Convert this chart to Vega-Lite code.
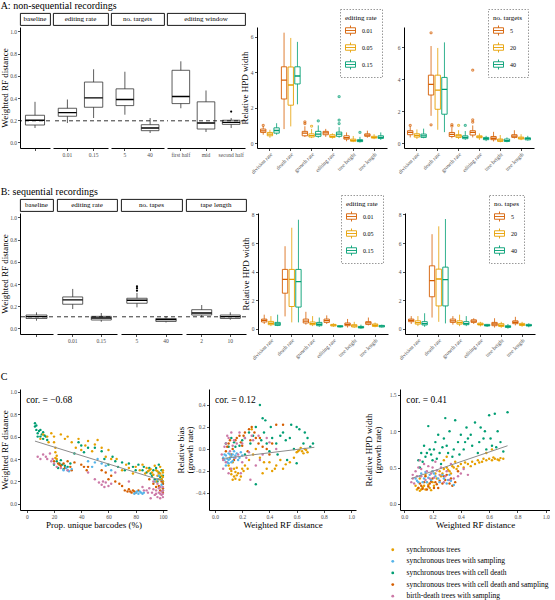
{
"$schema":"https://vega.github.io/schema/vega-lite/v6.json",
"padding":{"left":0,"top":0,"right":0,"bottom":0},
"background":"white",
"config":{
 "font":"Liberation Serif",
 "view":{"stroke":null},
 "axis":{"grid":false,"labelFont":"Liberation Serif","titleFont":"Liberation Serif","labelFontSize":5.5,"titleFontSize":9,"titleFontWeight":"normal","labelColor":"#4d4d4d","tickColor":"#4d4d4d","domainColor":"black","domainWidth":1,"tickSize":2.5,"labelPadding":1.5,"titlePadding":1,"titleColor":"black","labelOverlap":false,"titleLineHeight":9},
 "title":{"font":"Liberation Serif","fontWeight":"normal","fontSize":10,"anchor":"start","offset":-2,"color":"black"},
 "legend":{"labelFont":"Liberation Serif","titleFont":"Liberation Serif","titleFontWeight":"normal","titleColor":"black","labelColor":"black"},
 "text":{"font":"Liberation Serif","color":"black"}
},
"datasets":{
 "al":[
  {"g":"baseline","c":"baseline","lo":0.13,"q1":0.157,"md":0.2,"q3":0.245,"hi":0.366},
  {"g":"rate","c":"0.01","lo":0.175,"q1":0.236,"md":0.269,"q3":0.308,"hi":0.387},
  {"g":"rate","c":"0.15","lo":0.22,"q1":0.317,"md":0.402,"q3":0.544,"hi":0.659},
  {"g":"targets","c":"5","lo":0.25,"q1":0.332,"md":0.387,"q3":0.483,"hi":0.637},
  {"g":"targets","c":"40","lo":0.085,"q1":0.106,"md":0.13,"q3":0.16,"hi":0.22},
  {"g":"window","c":"first half","lo":0.308,"q1":0.35,"md":0.414,"q3":0.65,"hi":0.731},
  {"g":"window","c":"mid","lo":0.094,"q1":0.121,"md":0.175,"q3":0.366,"hi":0.468},
  {"g":"window","c":"second half","lo":0.13,"q1":0.163,"md":0.18,"q3":0.2,"hi":0.22}
 ],
 "bl":[
  {"g":"baseline","c":"baseline","lo":0.07,"q1":0.09,"md":0.106,"q3":0.121,"hi":0.145},
  {"g":"rate","c":"0.01","lo":0.175,"q1":0.218,"md":0.257,"q3":0.284,"hi":0.356},
  {"g":"rate","c":"0.15","lo":0.06,"q1":0.076,"md":0.094,"q3":0.109,"hi":0.139},
  {"g":"tapes","c":"5","lo":0.19,"q1":0.227,"md":0.254,"q3":0.272,"hi":0.32},
  {"g":"tapes","c":"40","lo":0.054,"q1":0.063,"md":0.079,"q3":0.09,"hi":0.109},
  {"g":"length","c":"2","lo":0.1,"q1":0.121,"md":0.139,"q3":0.169,"hi":0.211},
  {"g":"length","c":"10","lo":0.078,"q1":0.09,"md":0.106,"q3":0.121,"hi":0.145}
 ],
 "am":[
  {"v":"division rate","k":"0.01","lo":0.47,"q1":0.6,"md":0.69,"q3":0.79,"hi":0.97},
  {"v":"division rate","k":"0.05","lo":0.3,"q1":0.41,"md":0.5,"q3":0.6,"hi":0.75},
  {"v":"division rate","k":"0.15","lo":0.47,"q1":0.56,"md":0.71,"q3":0.86,"hi":1.12},
  {"v":"death rate","k":"0.01","lo":0.79,"q1":2.49,"md":3.56,"q3":4.31,"hi":6.24},
  {"v":"death rate","k":"0.05","lo":0.94,"q1":2.14,"md":3.28,"q3":4.3,"hi":5.94},
  {"v":"death rate","k":"0.15","lo":2.19,"q1":3.34,"md":3.79,"q3":4.31,"hi":5.72},
  {"v":"growth rate","k":"0.01","lo":0.34,"q1":0.41,"md":0.56,"q3":0.66,"hi":0.95},
  {"v":"growth rate","k":"0.05","lo":0.28,"q1":0.34,"md":0.42,"q3":0.52,"hi":0.8},
  {"v":"growth rate","k":"0.15","lo":0.3,"q1":0.38,"md":0.5,"q3":0.66,"hi":1.0},
  {"v":"editing rate","k":"0.01","lo":0.35,"q1":0.47,"md":0.58,"q3":0.66,"hi":0.8},
  {"v":"editing rate","k":"0.05","lo":0.25,"q1":0.32,"md":0.38,"q3":0.47,"hi":0.55},
  {"v":"editing rate","k":"0.15","lo":0.3,"q1":0.38,"md":0.5,"q3":0.62,"hi":0.9},
  {"v":"tree height","k":"0.01","lo":0.1,"q1":0.22,"md":0.3,"q3":0.41,"hi":0.6},
  {"v":"tree height","k":"0.05","lo":0.05,"q1":0.1,"md":0.15,"q3":0.22,"hi":0.4},
  {"v":"tree height","k":"0.15","lo":0.03,"q1":0.08,"md":0.13,"q3":0.19,"hi":0.35},
  {"v":"tree length","k":"0.01","lo":0.3,"q1":0.38,"md":0.45,"q3":0.52,"hi":0.7},
  {"v":"tree length","k":"0.05","lo":0.22,"q1":0.28,"md":0.32,"q3":0.38,"hi":0.5},
  {"v":"tree length","k":"0.15","lo":0.18,"q1":0.26,"md":0.32,"q3":0.41,"hi":0.6}
 ],
 "amo":[
  {"v":"division rate","k":"0.01","y":1.0},
  {"v":"growth rate","k":"0.01","y":1.1},
  {"v":"growth rate","k":"0.01","y":1.2},
  {"v":"growth rate","k":"0.05","y":0.95},
  {"v":"growth rate","k":"0.15","y":1.25},
  {"v":"editing rate","k":"0.15","y":1.1},
  {"v":"editing rate","k":"0.15","y":1.3},
  {"v":"editing rate","k":"0.15","y":2.62},
  {"v":"tree height","k":"0.15","y":0.6}
 ],
 "ar":[
  {"v":"division rate","k":"5","lo":0.35,"q1":0.52,"md":0.66,"q3":0.77,"hi":1.05},
  {"v":"division rate","k":"20","lo":0.25,"q1":0.37,"md":0.47,"q3":0.58,"hi":0.85},
  {"v":"division rate","k":"40","lo":0.3,"q1":0.35,"md":0.45,"q3":0.56,"hi":0.9},
  {"v":"death rate","k":"5","lo":1.7,"q1":3.0,"md":3.66,"q3":4.24,"hi":6.06},
  {"v":"death rate","k":"20","lo":0.83,"q1":2.11,"md":3.31,"q3":4.24,"hi":5.94},
  {"v":"death rate","k":"40","lo":0.68,"q1":1.8,"md":3.35,"q3":4.1,"hi":6.29},
  {"v":"growth rate","k":"5","lo":0.3,"q1":0.41,"md":0.54,"q3":0.66,"hi":0.95},
  {"v":"growth rate","k":"20","lo":0.25,"q1":0.35,"md":0.45,"q3":0.52,"hi":0.8},
  {"v":"growth rate","k":"40","lo":0.2,"q1":0.27,"md":0.36,"q3":0.45,"hi":0.75},
  {"v":"editing rate","k":"5","lo":0.35,"q1":0.5,"md":0.66,"q3":0.77,"hi":1.1},
  {"v":"editing rate","k":"20","lo":0.2,"q1":0.33,"md":0.39,"q3":0.45,"hi":0.6},
  {"v":"editing rate","k":"40","lo":0.12,"q1":0.21,"md":0.28,"q3":0.35,"hi":0.45},
  {"v":"tree height","k":"5","lo":0.1,"q1":0.21,"md":0.3,"q3":0.41,"hi":0.7},
  {"v":"tree height","k":"20","lo":0.05,"q1":0.1,"md":0.18,"q3":0.25,"hi":0.5},
  {"v":"tree height","k":"40","lo":0.05,"q1":0.1,"md":0.15,"q3":0.25,"hi":0.35},
  {"v":"tree length","k":"5","lo":0.28,"q1":0.35,"md":0.43,"q3":0.52,"hi":0.8},
  {"v":"tree length","k":"20","lo":0.18,"q1":0.25,"md":0.31,"q3":0.37,"hi":0.55},
  {"v":"tree length","k":"40","lo":0.15,"q1":0.2,"md":0.27,"q3":0.33,"hi":0.45}
 ],
 "aro":[
  {"v":"division rate","k":"5","y":1.1},
  {"v":"death rate","k":"5","y":6.89},
  {"v":"death rate","k":"5","y":1.14},
  {"v":"growth rate","k":"5","y":1.15},
  {"v":"growth rate","k":"5","y":1.05},
  {"v":"growth rate","k":"20","y":1.1},
  {"v":"growth rate","k":"40","y":1.1},
  {"v":"editing rate","k":"5","y":1.3},
  {"v":"editing rate","k":"5","y":1.45},
  {"v":"editing rate","k":"5","y":4.55}
 ],
 "bm":[
  {"v":"division rate","k":"0.01","lo":0.35,"q1":0.49,"md":0.6,"q3":0.69,"hi":1.0},
  {"v":"division rate","k":"0.05","lo":0.2,"q1":0.3,"md":0.4,"q3":0.53,"hi":0.9},
  {"v":"division rate","k":"0.15","lo":0.2,"q1":0.25,"md":0.35,"q3":0.46,"hi":1.0},
  {"v":"death rate","k":"0.01","lo":0.88,"q1":2.5,"md":3.47,"q3":4.16,"hi":5.78},
  {"v":"death rate","k":"0.05","lo":0.46,"q1":1.57,"md":3.47,"q3":4.16,"hi":7.07},
  {"v":"death rate","k":"0.15","lo":0.46,"q1":1.53,"md":3.31,"q3":4.16,"hi":7.63},
  {"v":"growth rate","k":"0.01","lo":0.3,"q1":0.42,"md":0.55,"q3":0.69,"hi":1.2},
  {"v":"growth rate","k":"0.05","lo":0.2,"q1":0.3,"md":0.38,"q3":0.49,"hi":0.9},
  {"v":"growth rate","k":"0.15","lo":0.15,"q1":0.23,"md":0.33,"q3":0.46,"hi":0.8},
  {"v":"editing rate","k":"0.01","lo":0.35,"q1":0.46,"md":0.58,"q3":0.69,"hi":0.95},
  {"v":"editing rate","k":"0.05","lo":0.15,"q1":0.21,"md":0.27,"q3":0.32,"hi":0.4},
  {"v":"editing rate","k":"0.15","lo":0.1,"q1":0.14,"md":0.18,"q3":0.23,"hi":0.25},
  {"v":"tree height","k":"0.01","lo":0.1,"q1":0.23,"md":0.32,"q3":0.42,"hi":0.7},
  {"v":"tree height","k":"0.05","lo":0.08,"q1":0.14,"md":0.22,"q3":0.3,"hi":0.5},
  {"v":"tree height","k":"0.15","lo":0.02,"q1":0.07,"md":0.12,"q3":0.18,"hi":0.3},
  {"v":"tree length","k":"0.01","lo":0.25,"q1":0.32,"md":0.42,"q3":0.51,"hi":0.8},
  {"v":"tree length","k":"0.05","lo":0.12,"q1":0.18,"md":0.26,"q3":0.35,"hi":0.45},
  {"v":"tree length","k":"0.15","lo":0.1,"q1":0.14,"md":0.2,"q3":0.25,"hi":0.3}
 ],
 "br":[
  {"v":"division rate","k":"5","lo":0.35,"q1":0.51,"md":0.6,"q3":0.69,"hi":0.9},
  {"v":"division rate","k":"20","lo":0.2,"q1":0.34,"md":0.45,"q3":0.57,"hi":0.9},
  {"v":"division rate","k":"40","lo":0.15,"q1":0.28,"md":0.38,"q3":0.51,"hi":1.1},
  {"v":"death rate","k":"5","lo":0.8,"q1":2.25,"md":3.38,"q3":4.41,"hi":6.62},
  {"v":"death rate","k":"20","lo":0.5,"q1":1.61,"md":3.49,"q3":4.18,"hi":7.17},
  {"v":"death rate","k":"40","lo":0.39,"q1":1.61,"md":3.45,"q3":4.32,"hi":7.68},
  {"v":"growth rate","k":"5","lo":0.3,"q1":0.46,"md":0.57,"q3":0.69,"hi":0.9},
  {"v":"growth rate","k":"20","lo":0.2,"q1":0.34,"md":0.45,"q3":0.57,"hi":1.0},
  {"v":"growth rate","k":"40","lo":0.2,"q1":0.3,"md":0.38,"q3":0.51,"hi":0.9},
  {"v":"editing rate","k":"5","lo":0.35,"q1":0.46,"md":0.55,"q3":0.64,"hi":0.75},
  {"v":"editing rate","k":"20","lo":0.18,"q1":0.28,"md":0.33,"q3":0.41,"hi":0.5},
  {"v":"editing rate","k":"40","lo":0.15,"q1":0.21,"md":0.25,"q3":0.32,"hi":0.35},
  {"v":"tree height","k":"5","lo":0.1,"q1":0.23,"md":0.35,"q3":0.46,"hi":0.75},
  {"v":"tree height","k":"20","lo":0.08,"q1":0.18,"md":0.26,"q3":0.37,"hi":0.5},
  {"v":"tree height","k":"40","lo":0.02,"q1":0.11,"md":0.16,"q3":0.23,"hi":0.35},
  {"v":"tree length","k":"5","lo":0.25,"q1":0.37,"md":0.47,"q3":0.57,"hi":0.85},
  {"v":"tree length","k":"20","lo":0.15,"q1":0.25,"md":0.31,"q3":0.39,"hi":0.5},
  {"v":"tree length","k":"40","lo":0.12,"q1":0.21,"md":0.25,"q3":0.32,"hi":0.4}
 ],
 "cl":[
  {"s":"c","x":6,"y":0.72},{"s":"c","x":6,"y":0.69},{"s":"c","x":7,"y":0.66},{"s":"c","x":8,"y":0.63},{"s":"c","x":9,"y":0.65},{"s":"c","x":10,"y":0.6},{"s":"c","x":11,"y":0.62},{"s":"c","x":12,"y":0.58},{"s":"c","x":13,"y":0.61},{"s":"c","x":14,"y":0.6},{"s":"c","x":15,"y":0.57},{"s":"c","x":8,"y":0.6},{"s":"c","x":10,"y":0.66},{"s":"c","x":22,"y":0.38},{"s":"c","x":24,"y":0.36},{"s":"c","x":26,"y":0.35},{"s":"c","x":28,"y":0.34},{"s":"c","x":30,"y":0.33},{"s":"c","x":25,"y":0.39},{"s":"c","x":27,"y":0.31},{"s":"c","x":32,"y":0.36},{"s":"c","x":35,"y":0.45},{"s":"c","x":40,"y":0.52},{"s":"c","x":45,"y":0.5},{"s":"c","x":50,"y":0.5},{"s":"c","x":55,"y":0.47},{"s":"c","x":60,"y":0.35},{"s":"c","x":65,"y":0.38},{"s":"c","x":70,"y":0.37},{"s":"c","x":75,"y":0.36},{"s":"c","x":78,"y":0.33},{"s":"c","x":80,"y":0.3},{"s":"c","x":82,"y":0.35},{"s":"c","x":85,"y":0.3},{"s":"c","x":88,"y":0.28},{"s":"c","x":90,"y":0.32},{"s":"c","x":92,"y":0.25},{"s":"c","x":94,"y":0.22},{"s":"c","x":96,"y":0.2},{"s":"c","x":98,"y":0.15},{"s":"c","x":99,"y":0.3},{"s":"c","x":100,"y":0.25},{"s":"c","x":97,"y":0.35},{"s":"c","x":100,"y":0.18},
  {"s":"c","x":86,"y":0.33},{"s":"c","x":91,"y":0.27},{"s":"c","x":93,"y":0.3},{"s":"c","x":95,"y":0.32},{"s":"c","x":97,"y":0.28},{"s":"c","x":99,"y":0.22},{"s":"c","x":100,"y":0.12},{"s":"c","x":100,"y":0.2},{"s":"c","x":98,"y":0.24},{"s":"c","x":72,"y":0.3},{"s":"c","x":67,"y":0.33},{"s":"c","x":63,"y":0.42},{"s":"c","x":57,"y":0.4},{"s":"c","x":42,"y":0.46},{"s":"c","x":38,"y":0.55},{"s":"c","x":20,"y":0.35},{"s":"c","x":23,"y":0.32},{"s":"c","x":12,"y":0.64},{"s":"c","x":7,"y":0.7},
  {"s":"a","x":10,"y":0.58},{"s":"a","x":12,"y":0.62},{"s":"a","x":15,"y":0.6},{"s":"a","x":18,"y":0.63},{"s":"a","x":20,"y":0.55},{"s":"a","x":21,"y":0.5},{"s":"a","x":21,"y":0.46},{"s":"a","x":22,"y":0.43},{"s":"a","x":21,"y":0.41},{"s":"a","x":22,"y":0.4},{"s":"a","x":30,"y":0.6},{"s":"a","x":33,"y":0.55},{"s":"a","x":36,"y":0.5},{"s":"a","x":40,"y":0.48},{"s":"a","x":45,"y":0.56},{"s":"a","x":50,"y":0.53},{"s":"a","x":55,"y":0.5},{"s":"a","x":38,"y":0.58},{"s":"a","x":58,"y":0.42},{"s":"a","x":62,"y":0.4},{"s":"a","x":70,"y":0.3},{"s":"a","x":75,"y":0.32},{"s":"a","x":78,"y":0.27},{"s":"a","x":80,"y":0.33},{"s":"a","x":83,"y":0.3},{"s":"a","x":85,"y":0.35},{"s":"a","x":88,"y":0.32},{"s":"a","x":90,"y":0.3},{"s":"a","x":92,"y":0.28},{"s":"a","x":94,"y":0.34},{"s":"a","x":95,"y":0.3},{"s":"a","x":96,"y":0.25},{"s":"a","x":97,"y":0.27},{"s":"a","x":98,"y":0.33},{"s":"a","x":99,"y":0.22},{"s":"a","x":100,"y":0.28},{"s":"a","x":100,"y":0.2},{"s":"a","x":93,"y":0.26},{"s":"a","x":87,"y":0.27},
  {"s":"a","x":89,"y":0.29},{"s":"a","x":91,"y":0.31},{"s":"a","x":96,"y":0.29},{"s":"a","x":98,"y":0.27},{"s":"a","x":99,"y":0.25},{"s":"a","x":100,"y":0.3},{"s":"a","x":100,"y":0.24},{"s":"a","x":97,"y":0.22},{"s":"a","x":95,"y":0.2},{"s":"a","x":25,"y":0.62},{"s":"a","x":28,"y":0.58},{"s":"a","x":43,"y":0.52},{"s":"a","x":48,"y":0.47},{"s":"a","x":52,"y":0.57},{"s":"a","x":60,"y":0.48},{"s":"a","x":66,"y":0.4},{"s":"a","x":73,"y":0.35},{"s":"a","x":20,"y":0.6},{"s":"a","x":16,"y":0.55},
  {"s":"d","x":20,"y":0.38},{"s":"d","x":23,"y":0.36},{"s":"d","x":25,"y":0.34},{"s":"d","x":28,"y":0.32},{"s":"d","x":30,"y":0.38},{"s":"d","x":33,"y":0.3},{"s":"d","x":40,"y":0.35},{"s":"d","x":42,"y":0.33},{"s":"d","x":44,"y":0.3},{"s":"d","x":55,"y":0.3},{"s":"d","x":58,"y":0.28},{"s":"d","x":62,"y":0.25},{"s":"d","x":65,"y":0.2},{"s":"d","x":70,"y":0.16},{"s":"d","x":72,"y":0.12},{"s":"d","x":74,"y":0.11},{"s":"d","x":75,"y":0.13},{"s":"d","x":77,"y":0.1},{"s":"d","x":78,"y":0.12},{"s":"d","x":79,"y":0.11},{"s":"d","x":80,"y":0.1},{"s":"d","x":82,"y":0.12},{"s":"d","x":90,"y":0.22},{"s":"d","x":93,"y":0.18},{"s":"d","x":95,"y":0.15},{"s":"d","x":98,"y":0.12},{"s":"d","x":100,"y":0.1},{"s":"d","x":99,"y":0.2},{"s":"d","x":60,"y":0.22},
  {"s":"d","x":24,"y":0.35},{"s":"d","x":27,"y":0.36},{"s":"d","x":32,"y":0.33},{"s":"d","x":35,"y":0.37},{"s":"d","x":45,"y":0.33},{"s":"d","x":68,"y":0.18},{"s":"d","x":76,"y":0.11},{"s":"d","x":97,"y":0.16},{"s":"d","x":100,"y":0.14},{"s":"d","x":100,"y":0.18},
  {"s":"b","x":27,"y":0.3},{"s":"b","x":29,"y":0.32},{"s":"b","x":31,"y":0.29},{"s":"b","x":33,"y":0.31},{"s":"b","x":45,"y":0.38},{"s":"b","x":48,"y":0.33},{"s":"b","x":52,"y":0.4},{"s":"b","x":55,"y":0.36},{"s":"b","x":58,"y":0.34},{"s":"b","x":62,"y":0.3},{"s":"b","x":80,"y":0.1},{"s":"b","x":82,"y":0.09},{"s":"b","x":84,"y":0.1},{"s":"b","x":86,"y":0.1},{"s":"b","x":81,"y":0.11},{"s":"b","x":94,"y":0.2},{"s":"b","x":97,"y":0.25},{"s":"b","x":99,"y":0.17},
  {"s":"b","x":85,"y":0.09},{"s":"b","x":83,"y":0.11},{"s":"b","x":79,"y":0.09},{"s":"b","x":30,"y":0.3},{"s":"b","x":50,"y":0.37},{"s":"b","x":96,"y":0.22},
  {"s":"e","x":8,"y":0.42},{"s":"e","x":12,"y":0.44},{"s":"e","x":15,"y":0.4},{"s":"e","x":18,"y":0.38},{"s":"e","x":20,"y":0.36},{"s":"e","x":22,"y":0.33},{"s":"e","x":17,"y":0.45},{"s":"e","x":30,"y":0.3},{"s":"e","x":45,"y":0.28},{"s":"e","x":50,"y":0.22},{"s":"e","x":55,"y":0.17},{"s":"e","x":57,"y":0.15},{"s":"e","x":58,"y":0.19},{"s":"e","x":60,"y":0.16},{"s":"e","x":65,"y":0.28},{"s":"e","x":75,"y":0.2},{"s":"e","x":85,"y":0.15},{"s":"e","x":88,"y":0.12},{"s":"e","x":90,"y":0.14},{"s":"e","x":92,"y":0.1},{"s":"e","x":94,"y":0.08},{"s":"e","x":95,"y":0.12},{"s":"e","x":96,"y":0.06},{"s":"e","x":97,"y":0.1},{"s":"e","x":98,"y":0.05},{"s":"e","x":99,"y":0.08},{"s":"e","x":100,"y":0.06},{"s":"e","x":100,"y":0.12},{"s":"e","x":98,"y":0.15},{"s":"e","x":96,"y":0.18},{"s":"e","x":93,"y":0.2},{"s":"e","x":91,"y":0.05},
  {"s":"e","x":97,"y":0.14},{"s":"e","x":99,"y":0.11},{"s":"e","x":100,"y":0.09},{"s":"e","x":100,"y":0.15},{"s":"e","x":98,"y":0.09},{"s":"e","x":95,"y":0.09},{"s":"e","x":93,"y":0.13},{"s":"e","x":89,"y":0.1},{"s":"e","x":86,"y":0.12},{"s":"e","x":10,"y":0.4},{"s":"e","x":14,"y":0.42},{"s":"e","x":19,"y":0.4},{"s":"e","x":25,"y":0.32},{"s":"e","x":53,"y":0.19},{"s":"e","x":56,"y":0.2},{"s":"e","x":62,"y":0.18}
 ],
 "cm":[
  {"s":"c","x":0.08,"y":0.05},{"s":"c","x":0.12,"y":0.1},{"s":"c","x":0.15,"y":0.02},{"s":"c","x":0.2,"y":0.08},{"s":"c","x":0.25,"y":0.15},{"s":"c","x":0.28,"y":0.12},{"s":"c","x":0.3,"y":0.2},{"s":"c","x":0.33,"y":0.4},{"s":"c","x":0.35,"y":0.28},{"s":"c","x":0.37,"y":0.26},{"s":"c","x":0.38,"y":0.05},{"s":"c","x":0.4,"y":-0.02},{"s":"c","x":0.42,"y":0.1},{"s":"c","x":0.45,"y":0.05},{"s":"c","x":0.48,"y":0.12},{"s":"c","x":0.5,"y":0.15},{"s":"c","x":0.52,"y":0.08},{"s":"c","x":0.55,"y":0.1},{"s":"c","x":0.58,"y":0.0},{"s":"c","x":0.6,"y":0.2},{"s":"c","x":0.62,"y":0.18},{"s":"c","x":0.65,"y":0.05},{"s":"c","x":0.68,"y":0.1},{"s":"c","x":0.7,"y":0.02},{"s":"c","x":0.72,"y":0.05},{"s":"c","x":0.3,"y":-0.32},{"s":"c","x":0.22,"y":-0.05},{"s":"c","x":0.53,"y":-0.1},{"s":"c","x":0.46,"y":-0.05},{"s":"c","x":0.6,"y":-0.13},
  {"s":"c","x":0.1,"y":0.02},{"s":"c","x":0.14,"y":0.06},{"s":"c","x":0.18,"y":0.03},{"s":"c","x":0.22,"y":0.1},{"s":"c","x":0.26,"y":0.05},{"s":"c","x":0.34,"y":0.08},{"s":"c","x":0.36,"y":0.15},{"s":"c","x":0.41,"y":0.2},{"s":"c","x":0.56,"y":0.22},{"s":"c","x":0.66,"y":0.15},
  {"s":"a","x":0.1,"y":-0.15},{"s":"a","x":0.12,"y":-0.2},{"s":"a","x":0.14,"y":-0.25},{"s":"a","x":0.15,"y":-0.27},{"s":"a","x":0.17,"y":-0.22},{"s":"a","x":0.18,"y":-0.28},{"s":"a","x":0.2,"y":-0.18},{"s":"a","x":0.13,"y":-0.12},{"s":"a","x":0.16,"y":-0.17},{"s":"a","x":0.22,"y":-0.15},{"s":"a","x":0.25,"y":-0.1},{"s":"a","x":0.28,"y":-0.05},{"s":"a","x":0.3,"y":0.0},{"s":"a","x":0.33,"y":-0.08},{"s":"a","x":0.36,"y":-0.12},{"s":"a","x":0.38,"y":-0.18},{"s":"a","x":0.42,"y":-0.2},{"s":"a","x":0.45,"y":-0.15},{"s":"a","x":0.48,"y":-0.1},{"s":"a","x":0.5,"y":-0.18},{"s":"a","x":0.55,"y":-0.12},{"s":"a","x":0.58,"y":-0.08},{"s":"a","x":0.6,"y":-0.03},{"s":"a","x":0.62,"y":-0.01},{"s":"a","x":0.64,"y":-0.02},{"s":"a","x":0.66,"y":0.0},{"s":"a","x":0.68,"y":-0.03},{"s":"a","x":0.65,"y":-0.04},{"s":"a","x":0.63,"y":0.01},{"s":"a","x":0.27,"y":0.18},{"s":"a","x":0.35,"y":-0.22},{"s":"a","x":0.11,"y":-0.08},
  {"s":"a","x":0.12,"y":-0.23},{"s":"a","x":0.14,"y":-0.18},{"s":"a","x":0.16,"y":-0.24},{"s":"a","x":0.19,"y":-0.25},{"s":"a","x":0.21,"y":-0.2},{"s":"a","x":0.11,"y":-0.18},{"s":"a","x":0.13,"y":-0.28},{"s":"a","x":0.15,"y":-0.21},{"s":"a","x":0.24,"y":-0.18},{"s":"a","x":0.4,"y":-0.12},{"s":"a","x":0.44,"y":-0.18},{"s":"a","x":0.52,"y":-0.14},{"s":"a","x":0.67,"y":-0.01},{"s":"a","x":0.61,"y":-0.02},
  {"s":"d","x":0.08,"y":-0.02},{"s":"d","x":0.1,"y":0.05},{"s":"d","x":0.12,"y":-0.05},{"s":"d","x":0.15,"y":0.08},{"s":"d","x":0.18,"y":0.12},{"s":"d","x":0.2,"y":0.03},{"s":"d","x":0.22,"y":0.15},{"s":"d","x":0.25,"y":0.18},{"s":"d","x":0.27,"y":0.2},{"s":"d","x":0.3,"y":0.1},{"s":"d","x":0.32,"y":0.05},{"s":"d","x":0.35,"y":0.02},{"s":"d","x":0.38,"y":0.0},{"s":"d","x":0.4,"y":-0.05},{"s":"d","x":0.45,"y":0.22},{"s":"d","x":0.5,"y":0.22},{"s":"d","x":0.14,"y":-0.1},{"s":"d","x":0.24,"y":-0.02},
  {"s":"d","x":0.09,"y":0.02},{"s":"d","x":0.11,"y":0.08},{"s":"d","x":0.13,"y":0.0},{"s":"d","x":0.16,"y":0.1},{"s":"d","x":0.19,"y":0.06},{"s":"d","x":0.21,"y":0.12},{"s":"d","x":0.26,"y":0.08},{"s":"d","x":0.29,"y":0.15},{"s":"d","x":0.33,"y":0.1},{"s":"d","x":0.42,"y":0.05},
  {"s":"b","x":0.06,"y":-0.08},{"s":"b","x":0.07,"y":-0.1},{"s":"b","x":0.08,"y":-0.06},{"s":"b","x":0.09,"y":-0.12},{"s":"b","x":0.1,"y":-0.04},{"s":"b","x":0.11,"y":-0.09},{"s":"b","x":0.12,"y":-0.07},{"s":"b","x":0.13,"y":-0.11},{"s":"b","x":0.15,"y":-0.06},{"s":"b","x":0.17,"y":-0.1},{"s":"b","x":0.19,"y":-0.03},{"s":"b","x":0.08,"y":-0.15},{"s":"b","x":0.1,"y":-0.13},{"s":"b","x":0.14,"y":-0.02},
  {"s":"b","x":0.07,"y":-0.05},{"s":"b","x":0.09,"y":-0.09},{"s":"b","x":0.11,"y":-0.05},{"s":"b","x":0.12,"y":-0.12},{"s":"b","x":0.14,"y":-0.08},{"s":"b","x":0.16,"y":-0.04},{"s":"b","x":0.18,"y":-0.08},{"s":"b","x":0.2,"y":-0.06},{"s":"b","x":0.1,"y":-0.1},{"s":"b","x":0.13,"y":-0.05},
  {"s":"e","x":0.05,"y":-0.05},{"s":"e","x":0.07,"y":0.02},{"s":"e","x":0.08,"y":-0.12},{"s":"e","x":0.1,"y":0.1},{"s":"e","x":0.12,"y":-0.18},{"s":"e","x":0.13,"y":0.03},{"s":"e","x":0.15,"y":-0.08},{"s":"e","x":0.18,"y":0.15},{"s":"e","x":0.2,"y":-0.12},{"s":"e","x":0.22,"y":0.1},{"s":"e","x":0.25,"y":-0.03},{"s":"e","x":0.28,"y":0.08},{"s":"e","x":0.3,"y":-0.15},{"s":"e","x":0.32,"y":0.12},{"s":"e","x":0.35,"y":-0.05},{"s":"e","x":0.4,"y":0.06},{"s":"e","x":0.45,"y":0.0},{"s":"e","x":0.06,"y":-0.18},{"s":"e","x":0.09,"y":0.12},{"s":"e","x":0.16,"y":0.05},{"s":"e","x":0.26,"y":-0.28},{"s":"e","x":0.19,"y":-0.22},
  {"s":"e","x":0.06,"y":-0.1},{"s":"e","x":0.08,"y":0.05},{"s":"e","x":0.11,"y":-0.02},{"s":"e","x":0.14,"y":0.08},{"s":"e","x":0.17,"y":-0.05},{"s":"e","x":0.2,"y":0.05},{"s":"e","x":0.23,"y":-0.08},{"s":"e","x":0.12,"y":0.15},{"s":"e","x":0.27,"y":0.12},{"s":"e","x":0.33,"y":-0.1},{"s":"e","x":0.38,"y":0.1},{"s":"e","x":0.1,"y":-0.22}
 ],
 "cr":[
  {"s":"c","x":0.1,"y":0.6},{"s":"c","x":0.12,"y":0.7},{"s":"c","x":0.14,"y":0.8},{"s":"c","x":0.15,"y":0.65},{"s":"c","x":0.17,"y":1.07},{"s":"c","x":0.18,"y":0.75},{"s":"c","x":0.2,"y":0.6},{"s":"c","x":0.22,"y":0.85},{"s":"c","x":0.25,"y":0.7},{"s":"c","x":0.28,"y":0.9},{"s":"c","x":0.29,"y":1.18},{"s":"c","x":0.3,"y":0.8},{"s":"c","x":0.32,"y":1.0},{"s":"c","x":0.34,"y":0.65},{"s":"c","x":0.36,"y":1.15},{"s":"c","x":0.38,"y":0.85},{"s":"c","x":0.4,"y":0.95},{"s":"c","x":0.42,"y":0.75},{"s":"c","x":0.45,"y":0.9},{"s":"c","x":0.48,"y":0.8},{"s":"c","x":0.5,"y":1.12},{"s":"c","x":0.52,"y":0.7},{"s":"c","x":0.54,"y":1.05},{"s":"c","x":0.56,"y":0.9},{"s":"c","x":0.58,"y":0.75},{"s":"c","x":0.6,"y":1.22},{"s":"c","x":0.62,"y":0.8},{"s":"c","x":0.64,"y":1.24},{"s":"c","x":0.66,"y":1.0},{"s":"c","x":0.68,"y":0.85},{"s":"c","x":0.73,"y":1.26},{"s":"c","x":0.7,"y":0.72},{"s":"c","x":0.24,"y":0.95},{"s":"c","x":0.44,"y":1.05},{"s":"c","x":0.26,"y":0.55},
  {"s":"c","x":0.11,"y":0.5},{"s":"c","x":0.13,"y":0.58},{"s":"c","x":0.16,"y":0.7},{"s":"c","x":0.19,"y":0.68},{"s":"c","x":0.21,"y":0.75},{"s":"c","x":0.23,"y":0.62},{"s":"c","x":0.27,"y":0.78},{"s":"c","x":0.31,"y":0.7},{"s":"c","x":0.35,"y":0.75},{"s":"c","x":0.39,"y":0.68},{"s":"c","x":0.43,"y":0.85},{"s":"c","x":0.47,"y":0.95},{"s":"c","x":0.53,"y":0.85},{"s":"c","x":0.57,"y":1.0},{"s":"c","x":0.61,"y":0.9},{"s":"c","x":0.65,"y":0.78},
  {"s":"a","x":0.08,"y":0.25},{"s":"a","x":0.1,"y":0.22},{"s":"a","x":0.12,"y":0.2},{"s":"a","x":0.14,"y":0.25},{"s":"a","x":0.16,"y":0.3},{"s":"a","x":0.18,"y":0.22},{"s":"a","x":0.2,"y":0.3},{"s":"a","x":0.11,"y":0.35},{"s":"a","x":0.15,"y":0.4},{"s":"a","x":0.22,"y":0.42},{"s":"a","x":0.25,"y":0.45},{"s":"a","x":0.28,"y":0.48},{"s":"a","x":0.3,"y":0.5},{"s":"a","x":0.32,"y":0.45},{"s":"a","x":0.35,"y":0.5},{"s":"a","x":0.38,"y":0.52},{"s":"a","x":0.4,"y":0.55},{"s":"a","x":0.42,"y":0.5},{"s":"a","x":0.45,"y":0.55},{"s":"a","x":0.48,"y":0.58},{"s":"a","x":0.5,"y":0.55},{"s":"a","x":0.52,"y":0.6},{"s":"a","x":0.55,"y":0.58},{"s":"a","x":0.58,"y":0.6},{"s":"a","x":0.6,"y":0.62},{"s":"a","x":0.62,"y":0.6},{"s":"a","x":0.64,"y":0.62},{"s":"a","x":0.66,"y":0.61},{"s":"a","x":0.68,"y":0.63},{"s":"a","x":0.7,"y":0.62},{"s":"a","x":0.26,"y":0.38},{"s":"a","x":0.33,"y":0.42},{"s":"a","x":0.58,"y":0.7},{"s":"a","x":0.62,"y":0.75},{"s":"a","x":0.3,"y":0.65},{"s":"a","x":0.28,"y":0.6},{"s":"a","x":0.2,"y":0.45},{"s":"a","x":0.36,"y":0.58},
  {"s":"a","x":0.09,"y":0.2},{"s":"a","x":0.11,"y":0.18},{"s":"a","x":0.13,"y":0.23},{"s":"a","x":0.15,"y":0.2},{"s":"a","x":0.17,"y":0.26},{"s":"a","x":0.19,"y":0.19},{"s":"a","x":0.21,"y":0.25},{"s":"a","x":0.23,"y":0.35},{"s":"a","x":0.27,"y":0.42},{"s":"a","x":0.31,"y":0.47},{"s":"a","x":0.34,"y":0.52},{"s":"a","x":0.37,"y":0.48},{"s":"a","x":0.43,"y":0.57},{"s":"a","x":0.47,"y":0.52},{"s":"a","x":0.53,"y":0.57},{"s":"a","x":0.56,"y":0.62},{"s":"a","x":0.63,"y":0.64},{"s":"a","x":0.67,"y":0.6},
  {"s":"d","x":0.1,"y":0.22},{"s":"d","x":0.12,"y":0.25},{"s":"d","x":0.14,"y":0.3},{"s":"d","x":0.16,"y":0.2},{"s":"d","x":0.18,"y":0.28},{"s":"d","x":0.2,"y":0.35},{"s":"d","x":0.22,"y":0.3},{"s":"d","x":0.25,"y":0.32},{"s":"d","x":0.28,"y":0.38},{"s":"d","x":0.3,"y":0.4},{"s":"d","x":0.32,"y":0.28},{"s":"d","x":0.34,"y":0.25},{"s":"d","x":0.36,"y":0.3},{"s":"d","x":0.38,"y":0.45},{"s":"d","x":0.15,"y":0.38},{"s":"d","x":0.24,"y":0.22},
  {"s":"d","x":0.11,"y":0.28},{"s":"d","x":0.13,"y":0.21},{"s":"d","x":0.17,"y":0.24},{"s":"d","x":0.19,"y":0.31},{"s":"d","x":0.21,"y":0.22},{"s":"d","x":0.23,"y":0.27},{"s":"d","x":0.27,"y":0.28},{"s":"d","x":0.29,"y":0.33},{"s":"d","x":0.33,"y":0.35},
  {"s":"b","x":0.08,"y":0.35},{"s":"b","x":0.1,"y":0.3},{"s":"b","x":0.12,"y":0.42},{"s":"b","x":0.14,"y":0.35},{"s":"b","x":0.16,"y":0.3},{"s":"b","x":0.18,"y":0.4},{"s":"b","x":0.2,"y":0.45},{"s":"b","x":0.22,"y":0.38},{"s":"b","x":0.25,"y":0.3},{"s":"b","x":0.28,"y":0.35},{"s":"b","x":0.3,"y":0.28},{"s":"b","x":0.32,"y":0.4},{"s":"b","x":0.35,"y":0.26},{"s":"b","x":0.33,"y":0.32},
  {"s":"b","x":0.09,"y":0.32},{"s":"b","x":0.11,"y":0.38},{"s":"b","x":0.13,"y":0.3},{"s":"b","x":0.15,"y":0.44},{"s":"b","x":0.17,"y":0.36},{"s":"b","x":0.19,"y":0.33},{"s":"b","x":0.21,"y":0.42},{"s":"b","x":0.24,"y":0.35},{"s":"b","x":0.27,"y":0.4},{"s":"b","x":0.31,"y":0.33},
  {"s":"e","x":0.05,"y":0.3},{"s":"e","x":0.06,"y":0.4},{"s":"e","x":0.08,"y":0.45},{"s":"e","x":0.1,"y":0.5},{"s":"e","x":0.12,"y":0.38},{"s":"e","x":0.14,"y":0.55},{"s":"e","x":0.16,"y":0.45},{"s":"e","x":0.18,"y":0.35},{"s":"e","x":0.2,"y":0.5},{"s":"e","x":0.22,"y":0.58},{"s":"e","x":0.25,"y":0.4},{"s":"e","x":0.28,"y":0.3},{"s":"e","x":0.3,"y":0.45},{"s":"e","x":0.35,"y":0.35},{"s":"e","x":0.4,"y":0.42},{"s":"e","x":0.45,"y":0.4},{"s":"e","x":0.07,"y":0.28},{"s":"e","x":0.11,"y":0.6},{"s":"e","x":0.33,"y":0.55},
  {"s":"e","x":0.06,"y":0.35},{"s":"e","x":0.09,"y":0.38},{"s":"e","x":0.12,"y":0.48},{"s":"e","x":0.15,"y":0.33},{"s":"e","x":0.17,"y":0.52},{"s":"e","x":0.19,"y":0.42},{"s":"e","x":0.21,"y":0.36},{"s":"e","x":0.23,"y":0.46},{"s":"e","x":0.26,"y":0.5},{"s":"e","x":0.29,"y":0.38},{"s":"e","x":0.32,"y":0.33},{"s":"e","x":0.38,"y":0.38},{"s":"e","x":0.42,"y":0.48}
 ]
},
"resolve":{"scale":{"x":"independent","y":"independent","stroke":"independent","color":"independent","xOffset":"independent"}},
"spacing":11,
"vconcat":[
 {"title":{"text":"A: non-sequential recordings"},"spacing":-6,
  "resolve":{"scale":{"x":"independent","y":"independent","stroke":"independent","color":"independent","xOffset":"independent"}},
  "hconcat":[
   {"spacing":1,"resolve":{"scale":{"x":"independent","y":"independent"}},
    "hconcat":[
     {"bounds":"flush","spacing":2,"vconcat":[
       {"width":30,"height":12,"view":{"stroke":"black","strokeWidth":0.9},"data":{"values":[{"t":"baseline"}]},"mark":{"type":"text","fontSize":7},"encoding":{"text":{"field":"t"}}},
       {"width":30,"height":121,"layer":[
         {"data":{"name":"al"},"transform":[{"filter":"datum.g=='baseline'"}],
          "encoding":{"x":{"field":"c","type":"nominal","scale":{"domain":["baseline"],"paddingInner":0.3,"paddingOuter":0.2},"axis":{"title":null,"labelExpr":"''","labelAngle":0}}},
          "layer":[
           {"mark":{"type":"rule","color":"#333","strokeWidth":0.8},"encoding":{"y":{"field":"lo","type":"quantitative","scale":{"domain":[-0.05,1.04],"nice":false},"axis":{"values":[0,0.2,0.4,0.6,0.8,1],"tickCount":20,"format":".1f","title":"Weighted RF distance","labelPadding":1,"titlePadding":0}},"y2":{"field":"hi"}}},
           {"mark":{"type":"bar","fill":"white","stroke":"#333","strokeWidth":0.8},"encoding":{"y":{"field":"q1","type":"quantitative"},"y2":{"field":"q3"}}},
           {"mark":{"type":"bar","fill":"transparent","stroke":"black","strokeWidth":1.3},"encoding":{"y":{"field":"md","type":"quantitative"},"y2":{"field":"md"}}}
          ]},
         {"data":{"values":[{"r":0.195}]},"mark":{"type":"rule","strokeDash":[4,3],"color":"black","strokeWidth":0.8},"encoding":{"y":{"field":"r","type":"quantitative"}}}
       ]}
     ]},
     {"bounds":"flush","spacing":2,"vconcat":[
       {"width":55,"height":12,"view":{"stroke":"black","strokeWidth":0.9},"data":{"values":[{"t":"editing rate"}]},"mark":{"type":"text","fontSize":7},"encoding":{"text":{"field":"t"}}},
       {"width":55,"height":121,"layer":[
         {"data":{"name":"al"},"transform":[{"filter":"datum.g=='rate'"}],
          "encoding":{"x":{"field":"c","type":"nominal","scale":{"domain":["0.01","0.15"],"paddingInner":0.3,"paddingOuter":0.2},"axis":{"title":null,"labelAngle":0}}},
          "layer":[
           {"mark":{"type":"rule","color":"#333","strokeWidth":0.8},"encoding":{"y":{"field":"lo","type":"quantitative","scale":{"domain":[-0.05,1.04],"nice":false},"axis":null},"y2":{"field":"hi"}}},
           {"mark":{"type":"bar","fill":"white","stroke":"#333","strokeWidth":0.8},"encoding":{"y":{"field":"q1","type":"quantitative","axis":null},"y2":{"field":"q3"}}},
           {"mark":{"type":"bar","fill":"transparent","stroke":"black","strokeWidth":1.3},"encoding":{"y":{"field":"md","type":"quantitative","axis":null},"y2":{"field":"md"}}}
          ]},
         {"data":{"values":[{"r":0.195}]},"mark":{"type":"rule","strokeDash":[4,3],"color":"black","strokeWidth":0.8},"encoding":{"y":{"field":"r","type":"quantitative","axis":null}}}
       ]}
     ]},
     {"bounds":"flush","spacing":2,"vconcat":[
       {"width":53,"height":12,"view":{"stroke":"black","strokeWidth":0.9},"data":{"values":[{"t":"no. targets"}]},"mark":{"type":"text","fontSize":7},"encoding":{"text":{"field":"t"}}},
       {"width":53,"height":121,"layer":[
         {"data":{"name":"al"},"transform":[{"filter":"datum.g=='targets'"}],
          "encoding":{"x":{"field":"c","type":"nominal","scale":{"domain":["5","40"],"paddingInner":0.3,"paddingOuter":0.2},"axis":{"title":null,"labelAngle":0}}},
          "layer":[
           {"mark":{"type":"rule","color":"#333","strokeWidth":0.8},"encoding":{"y":{"field":"lo","type":"quantitative","scale":{"domain":[-0.05,1.04],"nice":false},"axis":null},"y2":{"field":"hi"}}},
           {"mark":{"type":"bar","fill":"white","stroke":"#333","strokeWidth":0.8},"encoding":{"y":{"field":"q1","type":"quantitative","axis":null},"y2":{"field":"q3"}}},
           {"mark":{"type":"bar","fill":"transparent","stroke":"black","strokeWidth":1.3},"encoding":{"y":{"field":"md","type":"quantitative","axis":null},"y2":{"field":"md"}}}
          ]},
         {"data":{"values":[{"r":0.195}]},"mark":{"type":"rule","strokeDash":[4,3],"color":"black","strokeWidth":0.8},"encoding":{"y":{"field":"r","type":"quantitative","axis":null}}}
       ]}
     ]},
     {"bounds":"flush","spacing":2,"vconcat":[
       {"width":78,"height":12,"view":{"stroke":"black","strokeWidth":0.9},"data":{"values":[{"t":"editing window"}]},"mark":{"type":"text","fontSize":7},"encoding":{"text":{"field":"t"}}},
       {"width":78,"height":121,"layer":[
         {"data":{"name":"al"},"transform":[{"filter":"datum.g=='window'"}],
          "encoding":{"x":{"field":"c","type":"nominal","scale":{"domain":["first half","mid","second half"],"paddingInner":0.3,"paddingOuter":0.2},"axis":{"title":null,"labelAngle":0}}},
          "layer":[
           {"mark":{"type":"rule","color":"#333","strokeWidth":0.8},"encoding":{"y":{"field":"lo","type":"quantitative","scale":{"domain":[-0.05,1.04],"nice":false},"axis":null},"y2":{"field":"hi"}}},
           {"mark":{"type":"bar","fill":"white","stroke":"#333","strokeWidth":0.8},"encoding":{"y":{"field":"q1","type":"quantitative","axis":null},"y2":{"field":"q3"}}},
           {"mark":{"type":"bar","fill":"transparent","stroke":"black","strokeWidth":1.3},"encoding":{"y":{"field":"md","type":"quantitative","axis":null},"y2":{"field":"md"}}},
           {"data":{"values":[{"c":"second half","y":0.278}]},"mark":{"type":"circle","size":5,"color":"black","opacity":1},"encoding":{"y":{"field":"y","type":"quantitative","axis":null}}}
          ]},
         {"data":{"values":[{"r":0.195}]},"mark":{"type":"rule","strokeDash":[4,3],"color":"black","strokeWidth":0.8},"encoding":{"y":{"field":"r","type":"quantitative","axis":null}}}
       ]}
     ]}
    ]},
   {"bounds":"flush","spacing":2,"resolve":{"scale":{"stroke":"independent"}},"vconcat":[
     {"width":130,"height":12,"data":{"values":[{"t":""}]},"mark":{"type":"text"},"encoding":{"text":{"field":"t"}}},
     {"width":130,"height":121,"data":{"name":"am"},
      "encoding":{
       "x":{"field":"v","type":"nominal","scale":{"domain":["division rate","death rate","growth rate","editing rate","tree height","tree length"],"paddingInner":0.1,"paddingOuter":0.17},"axis":{"title":null,"labelAngle":-45,"labelPadding":1}},
       "xOffset":{"field":"k","type":"nominal","scale":{"domain":["0.01","0.05","0.15"],"paddingInner":0.2}},
       "stroke":{"field":"k","type":"nominal","scale":{"domain":["0.01","0.05","0.15"],"range":["#D55E00","#E69F00","#009E73"]},
        "legend":{"orient":"none","legendX":83,"legendY":-18,"title":"editing rate","titleFontSize":7,"titlePadding":4,"labelFontSize":6,"padding":5,"rowPadding":2,"symbolType":"M-1,-0.55H1V0.55H-1Z M-1,0H1 M0,-0.55V-1 M0,0.55V1","symbolSize":100,"symbolStrokeWidth":0.9,"symbolFillColor":"white","labelOffset":6,"strokeColor":"#999999","encode":{"legend":{"update":{"strokeDash":{"value":[1.5,1.5]}}}}}}
      },
      "layer":[
       {"mark":{"type":"rule","strokeWidth":0.8},"encoding":{"y":{"field":"lo","type":"quantitative","scale":{"domain":[-0.28,6.56],"nice":false},"axis":{"values":[0,2,4,6],"tickCount":20,"format":"d","title":"Relative HPD width"}},"y2":{"field":"hi"}}},
       {"mark":{"type":"bar","fill":"white","strokeWidth":0.9},"encoding":{"y":{"field":"q1","type":"quantitative"},"y2":{"field":"q3"}}},
       {"mark":{"type":"bar","fill":"transparent","strokeWidth":1.3},"encoding":{"y":{"field":"md","type":"quantitative"},"y2":{"field":"md"}}},
       {"data":{"name":"amo"},"mark":{"type":"point","filled":false,"size":4,"strokeWidth":1.2},"encoding":{"y":{"field":"y","type":"quantitative"}}}
      ]}
   ]},
   {"bounds":"flush","spacing":2,"resolve":{"scale":{"stroke":"independent"}},"vconcat":[
     {"width":130,"height":12,"data":{"values":[{"t":""}]},"mark":{"type":"text"},"encoding":{"text":{"field":"t"}}},
     {"width":130,"height":121,"data":{"name":"ar"},
      "encoding":{
       "x":{"field":"v","type":"nominal","scale":{"domain":["division rate","death rate","growth rate","editing rate","tree height","tree length"],"paddingInner":0.1,"paddingOuter":0.17},"axis":{"title":null,"labelAngle":-45,"labelPadding":1}},
       "xOffset":{"field":"k","type":"nominal","scale":{"domain":["5","20","40"],"paddingInner":0.2}},
       "stroke":{"field":"k","type":"nominal","scale":{"domain":["5","20","40"],"range":["#D55E00","#E69F00","#009E73"]},
        "legend":{"orient":"none","legendX":84,"legendY":-18,"title":"no. targets","titleFontSize":7,"titlePadding":4,"labelFontSize":6,"padding":5,"rowPadding":2,"symbolType":"M-1,-0.55H1V0.55H-1Z M-1,0H1 M0,-0.55V-1 M0,0.55V1","symbolSize":100,"symbolStrokeWidth":0.9,"symbolFillColor":"white","labelOffset":6,"strokeColor":"#999999","encode":{"legend":{"update":{"strokeDash":{"value":[1.5,1.5]}}}}}}
      },
      "layer":[
       {"mark":{"type":"rule","strokeWidth":0.8},"encoding":{"y":{"field":"lo","type":"quantitative","scale":{"domain":[-0.31,7.25],"nice":false},"axis":{"values":[0,2,4,6],"tickCount":20,"format":"d","title":null,"minExtent":23}},"y2":{"field":"hi"}}},
       {"mark":{"type":"bar","fill":"white","strokeWidth":0.9},"encoding":{"y":{"field":"q1","type":"quantitative"},"y2":{"field":"q3"}}},
       {"mark":{"type":"bar","fill":"transparent","strokeWidth":1.3},"encoding":{"y":{"field":"md","type":"quantitative"},"y2":{"field":"md"}}},
       {"data":{"name":"aro"},"mark":{"type":"point","filled":false,"size":4,"strokeWidth":1.2},"encoding":{"y":{"field":"y","type":"quantitative"}}}
      ]}
   ]}
  ]},
 {"title":{"text":"B: sequential recordings"},"spacing":-6,
  "resolve":{"scale":{"x":"independent","y":"independent","stroke":"independent","color":"independent","xOffset":"independent"}},
  "hconcat":[
   {"spacing":2,"resolve":{"scale":{"x":"independent","y":"independent"}},
    "hconcat":[
     {"bounds":"flush","spacing":2,"vconcat":[
       {"width":33,"height":12,"view":{"stroke":"black","strokeWidth":0.9},"data":{"values":[{"t":"baseline"}]},"mark":{"type":"text","fontSize":7},"encoding":{"text":{"field":"t"}}},
       {"width":33,"height":121,"layer":[
         {"data":{"name":"bl"},"transform":[{"filter":"datum.g=='baseline'"}],
          "encoding":{"x":{"field":"c","type":"nominal","scale":{"domain":["baseline"],"paddingInner":0.3,"paddingOuter":0.2},"axis":{"title":null,"labelExpr":"''","labelAngle":0}}},
          "layer":[
           {"mark":{"type":"rule","color":"#333","strokeWidth":0.8},"encoding":{"y":{"field":"lo","type":"quantitative","scale":{"domain":[-0.05,1.04],"nice":false},"axis":{"values":[0,0.2,0.4,0.6,0.8,1],"tickCount":20,"format":".1f","title":"Weighted RF distance","labelPadding":1,"titlePadding":0}},"y2":{"field":"hi"}}},
           {"mark":{"type":"bar","fill":"white","stroke":"#333","strokeWidth":0.8},"encoding":{"y":{"field":"q1","type":"quantitative"},"y2":{"field":"q3"}}},
           {"mark":{"type":"bar","fill":"transparent","stroke":"black","strokeWidth":1.3},"encoding":{"y":{"field":"md","type":"quantitative"},"y2":{"field":"md"}}}
          ]},
         {"data":{"values":[{"r":0.105}]},"mark":{"type":"rule","strokeDash":[4,3],"color":"black","strokeWidth":0.8},"encoding":{"y":{"field":"r","type":"quantitative"}}}
       ]}
     ]},
     {"bounds":"flush","spacing":2,"vconcat":[
       {"width":60,"height":12,"view":{"stroke":"black","strokeWidth":0.9},"data":{"values":[{"t":"editing rate"}]},"mark":{"type":"text","fontSize":7},"encoding":{"text":{"field":"t"}}},
       {"width":60,"height":121,"layer":[
         {"data":{"name":"bl"},"transform":[{"filter":"datum.g=='rate'"}],
          "encoding":{"x":{"field":"c","type":"nominal","scale":{"domain":["0.01","0.15"],"paddingInner":0.3,"paddingOuter":0.2},"axis":{"title":null,"labelAngle":0}}},
          "layer":[
           {"mark":{"type":"rule","color":"#333","strokeWidth":0.8},"encoding":{"y":{"field":"lo","type":"quantitative","scale":{"domain":[-0.05,1.04],"nice":false},"axis":null},"y2":{"field":"hi"}}},
           {"mark":{"type":"bar","fill":"white","stroke":"#333","strokeWidth":0.8},"encoding":{"y":{"field":"q1","type":"quantitative","axis":null},"y2":{"field":"q3"}}},
           {"mark":{"type":"bar","fill":"transparent","stroke":"black","strokeWidth":1.3},"encoding":{"y":{"field":"md","type":"quantitative","axis":null},"y2":{"field":"md"}}}
          ]},
         {"data":{"values":[{"r":0.105}]},"mark":{"type":"rule","strokeDash":[4,3],"color":"black","strokeWidth":0.8},"encoding":{"y":{"field":"r","type":"quantitative","axis":null}}}
       ]}
     ]},
     {"bounds":"flush","spacing":2,"vconcat":[
       {"width":61,"height":12,"view":{"stroke":"black","strokeWidth":0.9},"data":{"values":[{"t":"no. tapes"}]},"mark":{"type":"text","fontSize":7},"encoding":{"text":{"field":"t"}}},
       {"width":61,"height":121,"layer":[
         {"data":{"name":"bl"},"transform":[{"filter":"datum.g=='tapes'"}],
          "encoding":{"x":{"field":"c","type":"nominal","scale":{"domain":["5","40"],"paddingInner":0.3,"paddingOuter":0.2},"axis":{"title":null,"labelAngle":0}}},
          "layer":[
           {"mark":{"type":"rule","color":"#333","strokeWidth":0.8},"encoding":{"y":{"field":"lo","type":"quantitative","scale":{"domain":[-0.05,1.04],"nice":false},"axis":null},"y2":{"field":"hi"}}},
           {"mark":{"type":"bar","fill":"white","stroke":"#333","strokeWidth":0.8},"encoding":{"y":{"field":"q1","type":"quantitative","axis":null},"y2":{"field":"q3"}}},
           {"mark":{"type":"bar","fill":"transparent","stroke":"black","strokeWidth":1.3},"encoding":{"y":{"field":"md","type":"quantitative","axis":null},"y2":{"field":"md"}}},
           {"data":{"values":[{"c":"5","y":0.34},{"c":"5","y":0.363},{"c":"5","y":0.38}]},"mark":{"type":"circle","size":5,"color":"black","opacity":1},"encoding":{"y":{"field":"y","type":"quantitative","axis":null}}}
          ]},
         {"data":{"values":[{"r":0.105}]},"mark":{"type":"rule","strokeDash":[4,3],"color":"black","strokeWidth":0.8},"encoding":{"y":{"field":"r","type":"quantitative","axis":null}}}
       ]}
     ]},
     {"bounds":"flush","spacing":2,"vconcat":[
       {"width":60,"height":12,"view":{"stroke":"black","strokeWidth":0.9},"data":{"values":[{"t":"tape length"}]},"mark":{"type":"text","fontSize":7},"encoding":{"text":{"field":"t"}}},
       {"width":60,"height":121,"layer":[
         {"data":{"name":"bl"},"transform":[{"filter":"datum.g=='length'"}],
          "encoding":{"x":{"field":"c","type":"nominal","scale":{"domain":["2","10"],"paddingInner":0.3,"paddingOuter":0.2},"axis":{"title":null,"labelAngle":0}}},
          "layer":[
           {"mark":{"type":"rule","color":"#333","strokeWidth":0.8},"encoding":{"y":{"field":"lo","type":"quantitative","scale":{"domain":[-0.05,1.04],"nice":false},"axis":null},"y2":{"field":"hi"}}},
           {"mark":{"type":"bar","fill":"white","stroke":"#333","strokeWidth":0.8},"encoding":{"y":{"field":"q1","type":"quantitative","axis":null},"y2":{"field":"q3"}}},
           {"mark":{"type":"bar","fill":"transparent","stroke":"black","strokeWidth":1.3},"encoding":{"y":{"field":"md","type":"quantitative","axis":null},"y2":{"field":"md"}}}
          ]},
         {"data":{"values":[{"r":0.105}]},"mark":{"type":"rule","strokeDash":[4,3],"color":"black","strokeWidth":0.8},"encoding":{"y":{"field":"r","type":"quantitative","axis":null}}}
       ]}
     ]}
    ]},
   {"bounds":"flush","spacing":2,"resolve":{"scale":{"stroke":"independent"}},"vconcat":[
     {"width":130,"height":12,"data":{"values":[{"t":""}]},"mark":{"type":"text"},"encoding":{"text":{"field":"t"}}},
     {"width":130,"height":121,"data":{"name":"bm"},
      "encoding":{
       "x":{"field":"v","type":"nominal","scale":{"domain":["division rate","death rate","growth rate","editing rate","tree height","tree length"],"paddingInner":0.1,"paddingOuter":0.17},"axis":{"title":null,"labelAngle":-45,"labelPadding":1}},
       "xOffset":{"field":"k","type":"nominal","scale":{"domain":["0.01","0.05","0.15"],"paddingInner":0.2}},
       "stroke":{"field":"k","type":"nominal","scale":{"domain":["0.01","0.05","0.15"],"range":["#D55E00","#E69F00","#009E73"]},
        "legend":{"orient":"none","legendX":83,"legendY":-18,"title":"editing rate","titleFontSize":7,"titlePadding":4,"labelFontSize":6,"padding":5,"rowPadding":2,"symbolType":"M-1,-0.55H1V0.55H-1Z M-1,0H1 M0,-0.55V-1 M0,0.55V1","symbolSize":100,"symbolStrokeWidth":0.9,"symbolFillColor":"white","labelOffset":6,"strokeColor":"#999999","encode":{"legend":{"update":{"strokeDash":{"value":[1.5,1.5]}}}}}}
      },
      "layer":[
       {"mark":{"type":"rule","strokeWidth":0.8},"encoding":{"y":{"field":"lo","type":"quantitative","scale":{"domain":[-0.35,8.1],"nice":false},"axis":{"values":[0,2,4,6,8],"tickCount":20,"format":"d","title":"Relative HPD width"}},"y2":{"field":"hi"}}},
       {"mark":{"type":"bar","fill":"white","strokeWidth":0.9},"encoding":{"y":{"field":"q1","type":"quantitative"},"y2":{"field":"q3"}}},
       {"mark":{"type":"bar","fill":"transparent","strokeWidth":1.3},"encoding":{"y":{"field":"md","type":"quantitative"},"y2":{"field":"md"}}}
      ]}
   ]},
   {"bounds":"flush","spacing":2,"resolve":{"scale":{"stroke":"independent"}},"vconcat":[
     {"width":130,"height":12,"data":{"values":[{"t":""}]},"mark":{"type":"text"},"encoding":{"text":{"field":"t"}}},
     {"width":130,"height":121,"data":{"name":"br"},
      "encoding":{
       "x":{"field":"v","type":"nominal","scale":{"domain":["division rate","death rate","growth rate","editing rate","tree height","tree length"],"paddingInner":0.1,"paddingOuter":0.17},"axis":{"title":null,"labelAngle":-45,"labelPadding":1}},
       "xOffset":{"field":"k","type":"nominal","scale":{"domain":["5","20","40"],"paddingInner":0.2}},
       "stroke":{"field":"k","type":"nominal","scale":{"domain":["5","20","40"],"range":["#D55E00","#E69F00","#009E73"]},
        "legend":{"orient":"none","legendX":84,"legendY":-18,"title":"no. tapes","titleFontSize":7,"titlePadding":4,"labelFontSize":6,"padding":5,"rowPadding":2,"symbolType":"M-1,-0.55H1V0.55H-1Z M-1,0H1 M0,-0.55V-1 M0,0.55V1","symbolSize":100,"symbolStrokeWidth":0.9,"symbolFillColor":"white","labelOffset":6,"strokeColor":"#999999","encode":{"legend":{"update":{"strokeDash":{"value":[1.5,1.5]}}}}}}
      },
      "layer":[
       {"mark":{"type":"rule","strokeWidth":0.8},"encoding":{"y":{"field":"lo","type":"quantitative","scale":{"domain":[-0.35,8.1],"nice":false},"axis":{"values":[0,2,4,6,8],"tickCount":20,"format":"d","title":null,"minExtent":23}},"y2":{"field":"hi"}}},
       {"mark":{"type":"bar","fill":"white","strokeWidth":0.9},"encoding":{"y":{"field":"q1","type":"quantitative"},"y2":{"field":"q3"}}},
       {"mark":{"type":"bar","fill":"transparent","strokeWidth":1.3},"encoding":{"y":{"field":"md","type":"quantitative"},"y2":{"field":"md"}}}
      ]}
   ]}
  ]},
 {"title":{"text":"C","offset":7},"spacing":8,
  "resolve":{"scale":{"x":"independent","y":"independent","color":"independent"}},
  "hconcat":[
   {"width":147,"height":121,"layer":[
     {"data":{"name":"cl"},"mark":{"type":"circle","size":6,"opacity":1},"encoding":{
       "x":{"field":"x","type":"quantitative","scale":{"domain":[-5,103],"nice":false,"zero":false},"axis":{"values":[0,20,40,60,80,100],"tickCount":20,"title":"Prop. unique barcodes (%)"}},
       "y":{"field":"y","type":"quantitative","scale":{"domain":[-0.055,1.025],"nice":false,"zero":false},"axis":{"values":[0,0.2,0.4,0.6,0.8,1],"tickCount":20,"format":".1f","title":"Weighted RF distance","titlePadding":0,"labelPadding":1}},
       "color":{"field":"s","type":"nominal","scale":{"domain":["a","b","c","d","e"],"range":["#E69F00","#56B4E9","#009E73","#D55E00","#CC79A7"]},"legend":null}}},
     {"data":{"values":[{"x":6,"y":0.56},{"x":100,"y":0.205}]},"mark":{"type":"line","color":"#8c8c8c","strokeWidth":1},"encoding":{"x":{"field":"x","type":"quantitative"},"y":{"field":"y","type":"quantitative"}}},
     {"data":{"values":[{"t":"cor. = −0.68"}]},"mark":{"type":"text","align":"left","baseline":"middle","fontSize":9.5},"encoding":{"text":{"field":"t"},"x":{"datum":-0.5},"y":{"datum":0.93}}}
   ]},
   {"width":147,"height":121,"layer":[
     {"data":{"name":"cm"},"mark":{"type":"circle","size":6,"opacity":1},"encoding":{
       "x":{"field":"x","type":"quantitative","scale":{"domain":[-0.044,1.036],"nice":false,"zero":false},"axis":{"values":[0,0.2,0.4,0.6,0.8,1],"tickCount":20,"format":".1f","title":"Weighted RF distance"}},
       "y":{"field":"y","type":"quantitative","scale":{"domain":[-0.555,0.545],"nice":false,"zero":false},"axis":{"values":[-0.4,-0.2,0,0.2,0.4],"tickCount":20,"format":".1f","title":["Relative bias","(growth rate)"]}},
       "color":{"field":"s","type":"nominal","scale":{"domain":["a","b","c","d","e"],"range":["#E69F00","#56B4E9","#009E73","#D55E00","#CC79A7"]},"legend":null}}},
     {"data":{"values":[{"x":0.05,"y":-0.088},{"x":0.73,"y":0.015}]},"mark":{"type":"line","color":"#8c8c8c","strokeWidth":1},"encoding":{"x":{"field":"x","type":"quantitative"},"y":{"field":"y","type":"quantitative"}}},
     {"data":{"values":[{"t":"cor. = 0.12"}]},"mark":{"type":"text","align":"left","baseline":"middle","fontSize":9.5},"encoding":{"text":{"field":"t"},"x":{"datum":0.0},"y":{"datum":0.445}}}
   ]},
   {"width":150,"height":121,"layer":[
     {"data":{"name":"cr"},"mark":{"type":"circle","size":6,"opacity":1},"encoding":{
       "x":{"field":"x","type":"quantitative","scale":{"domain":[-0.03,1.03],"nice":false,"zero":false},"axis":{"values":[0,0.2,0.4,0.6,0.8,1],"tickCount":20,"format":".1f","title":"Weighted RF distance"}},
       "y":{"field":"y","type":"quantitative","scale":{"domain":[-0.083,1.58],"nice":false,"zero":false},"axis":{"values":[0,0.5,1,1.5],"tickCount":20,"format":".1f","title":["Relative HPD width","(growth rate)"],"minExtent":17}},
       "color":{"field":"s","type":"nominal","scale":{"domain":["a","b","c","d","e"],"range":["#E69F00","#56B4E9","#009E73","#D55E00","#CC79A7"]},
        "legend":{"orient":"none","legendX":-11,"legendY":157,"title":null,"labelExpr":"datum.label=='a'?'synchronous trees':datum.label=='b'?'synchronous trees with sampling':datum.label=='c'?'synchronous trees with cell death':datum.label=='d'?'synchronous trees with cell death and sampling':'birth-death trees with sampling'","symbolType":"circle","symbolSize":8,"labelFontSize":7.5,"rowPadding":2.6,"labelOffset":10,"padding":0}}}},
     {"data":{"values":[{"x":0.05,"y":0.35},{"x":0.73,"y":0.8}]},"mark":{"type":"line","color":"#8c8c8c","strokeWidth":1},"encoding":{"x":{"field":"x","type":"quantitative"},"y":{"field":"y","type":"quantitative"}}},
     {"data":{"values":[{"t":"cor. = 0.41"}]},"mark":{"type":"text","align":"left","baseline":"middle","fontSize":9.5},"encoding":{"text":{"field":"t"},"x":{"datum":0.015},"y":{"datum":1.43}}}
   ]}
  ]}
]
}
